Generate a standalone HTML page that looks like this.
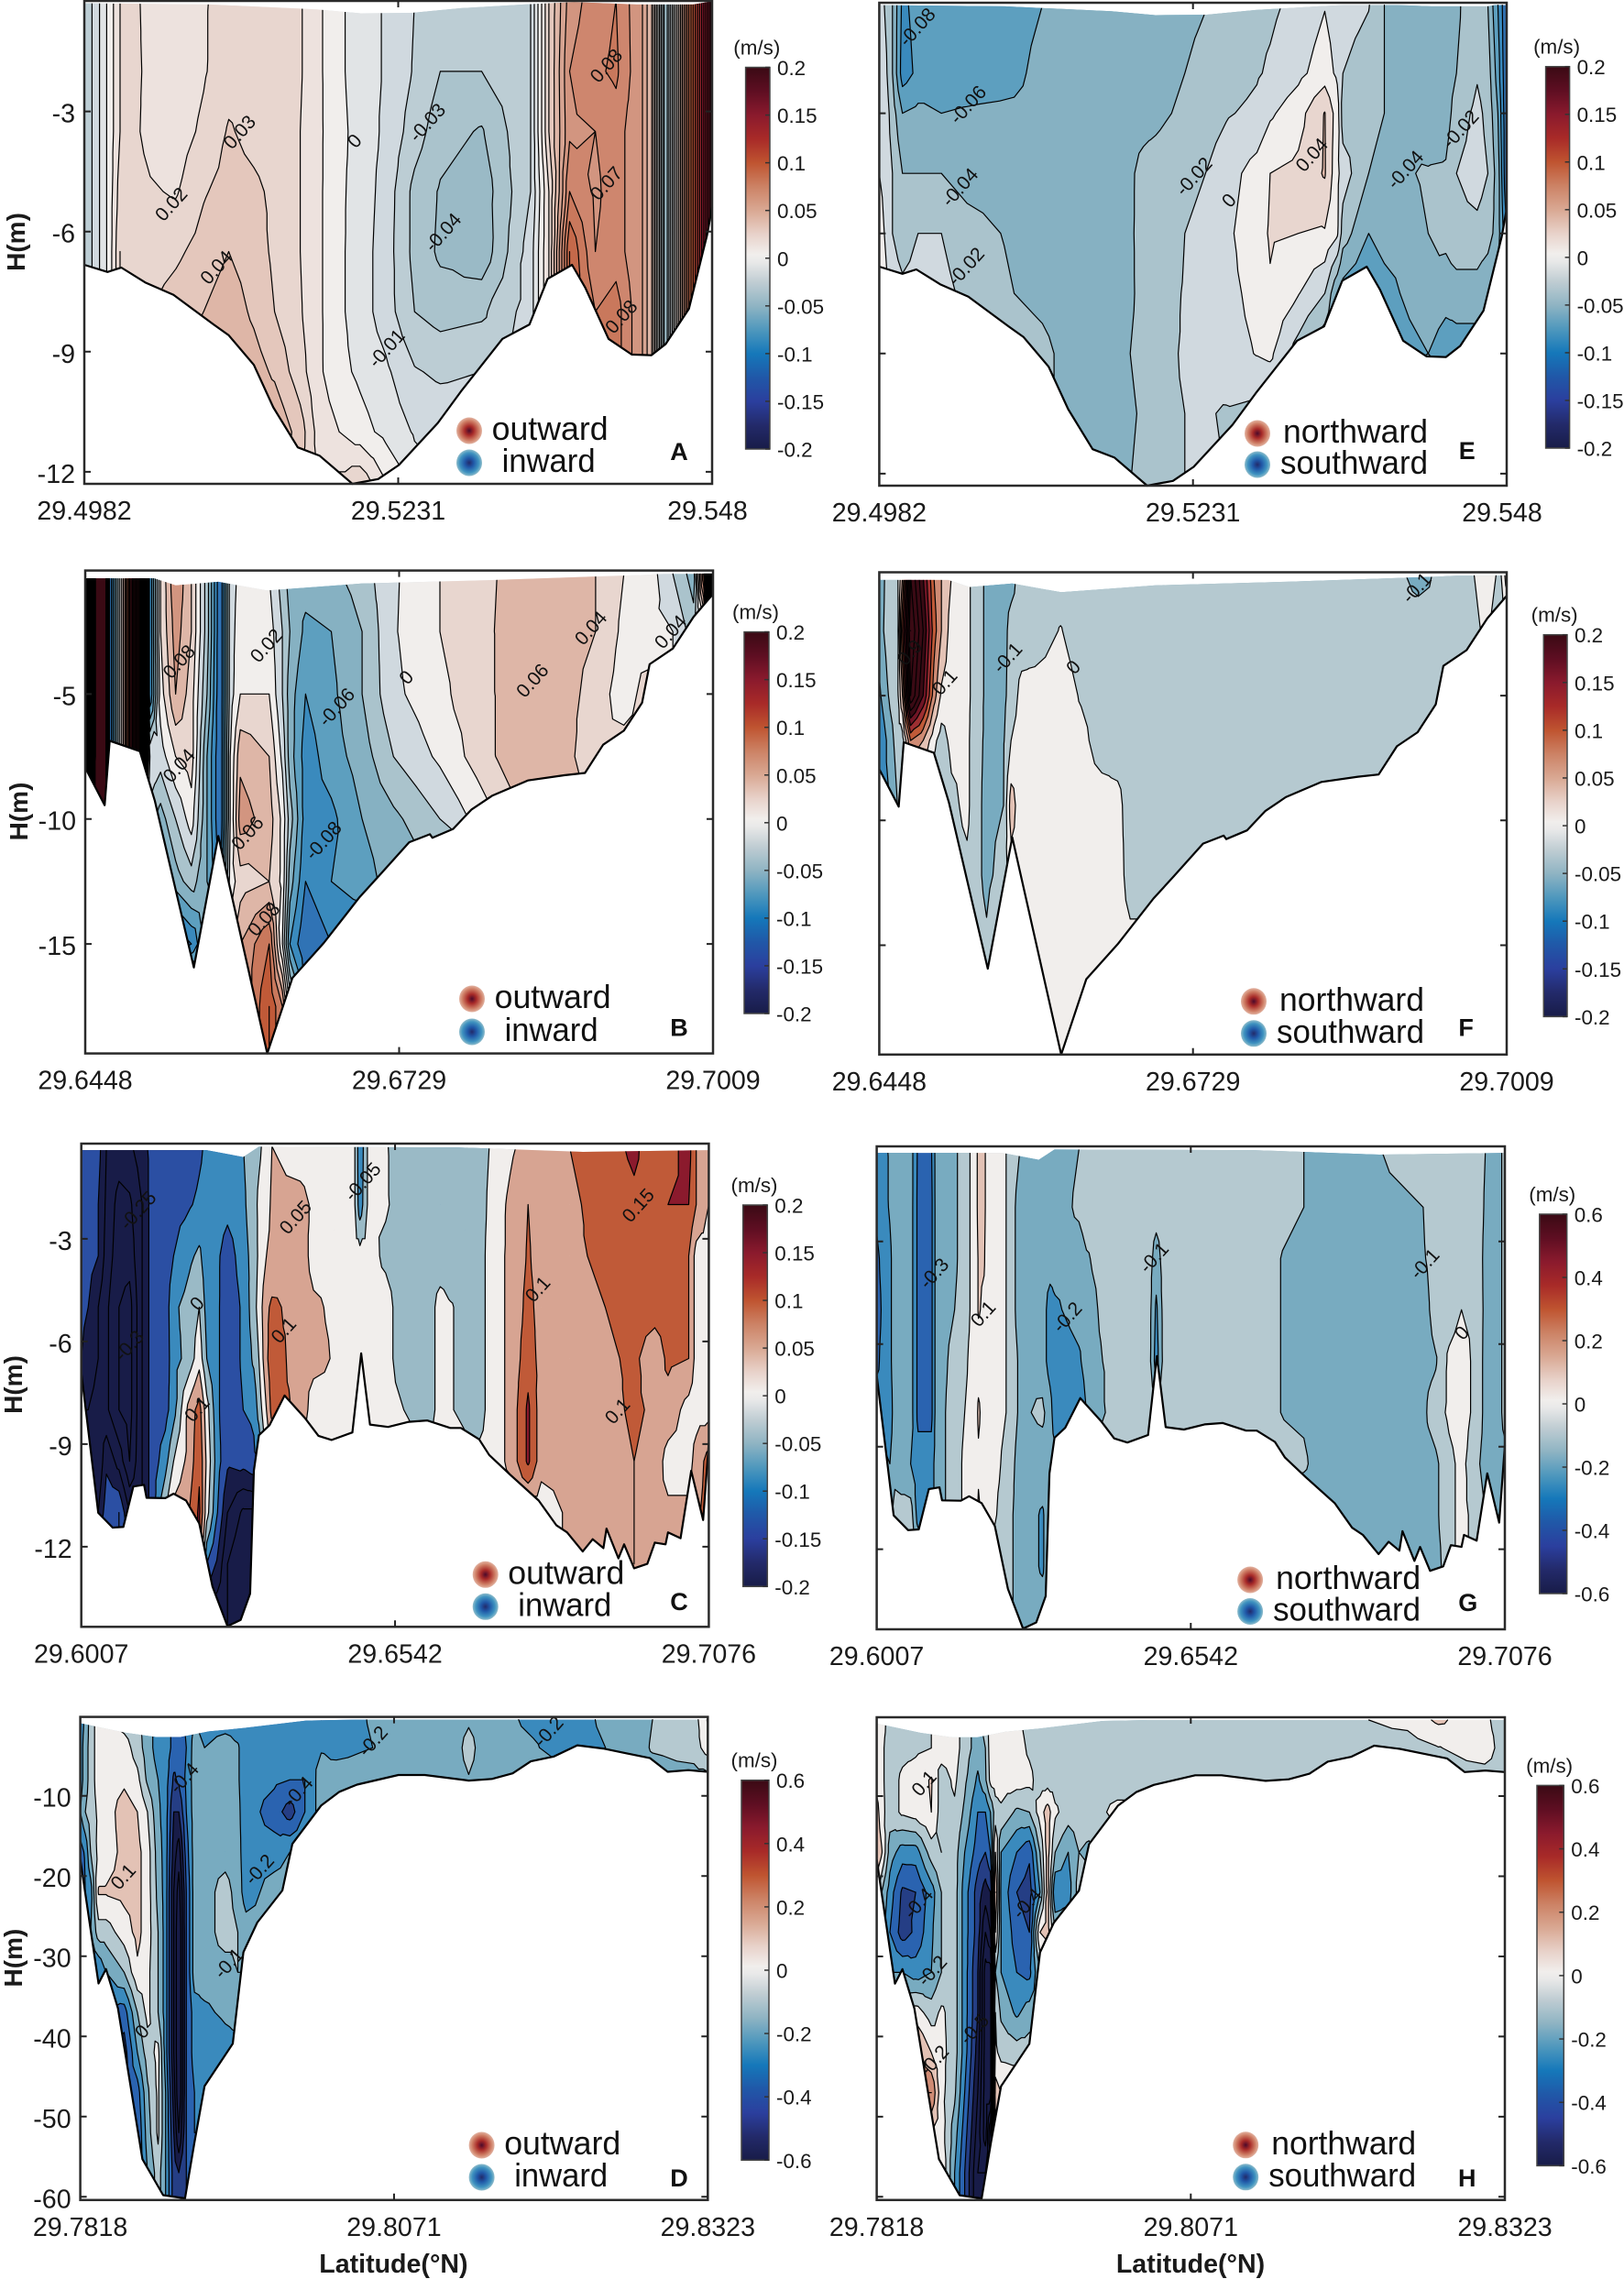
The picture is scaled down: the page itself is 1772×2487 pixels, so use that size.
<!DOCTYPE html>
<html lang="en">
<head>
<meta charset="utf-8">
<title>Velocity sections</title>
<style>
html,body{margin:0;padding:0;background:#fff}
#figure{display:block;font-family:"Liberation Sans",sans-serif}
</style>
</head>
<body>
<svg id="figure" xmlns="http://www.w3.org/2000/svg" width="1772" height="2487" viewBox="0 0 1772 2487">
<defs>
<radialGradient id="blob-out"><stop offset="0" stop-color="#4c0a2a"/><stop offset=".35" stop-color="#a82a28"/><stop offset=".75" stop-color="#cf7f66"/><stop offset="1" stop-color="#e2b3a2"/></radialGradient>
<radialGradient id="blob-in"><stop offset="0" stop-color="#222a6a"/><stop offset=".35" stop-color="#2058a8"/><stop offset=".75" stop-color="#3f93c0"/><stop offset="1" stop-color="#8fbccb"/></radialGradient>
<linearGradient id="bar-grad" x1="0" y1="0" x2="0" y2="1">
<stop offset="0" stop-color="#3a0a14"/><stop offset=".0625" stop-color="#5e0e22"/><stop offset=".125" stop-color="#8a1a2d"/><stop offset=".1875" stop-color="#a82a28"/><stop offset=".25" stop-color="#bf5430"/><stop offset=".3125" stop-color="#cc8265"/><stop offset=".375" stop-color="#d9a893"/><stop offset=".4375" stop-color="#e8d2ca"/><stop offset=".49" stop-color="#f1eeec"/><stop offset=".51" stop-color="#e9e9e9"/><stop offset=".5625" stop-color="#c0cdd3"/><stop offset=".625" stop-color="#8fb4c3"/><stop offset=".6875" stop-color="#4f98bd"/><stop offset=".75" stop-color="#1578ba"/><stop offset=".8125" stop-color="#2058a8"/><stop offset=".875" stop-color="#2b3f9e"/><stop offset=".9375" stop-color="#232a6a"/><stop offset="1" stop-color="#181c48"/>
</linearGradient>
</defs>
</svg>
<script>
/* ---------- shared transects: river bed and water surface (percent of section, metres) ---------- */
const t1BedPct=[0,3.7,5.9,9.7,14.2,20.6,23,27,30.1,34,37.5,42.7,46.8,50.1,56.3,60,66.6,70.9,73.8,77.7,79.8,83.5,87.2,90.3,92.6,96.3,99.2,100];
const t1BedDepth=[-6.83,-7.01,-6.9,-7.27,-7.58,-8.32,-8.59,-9.33,-10.39,-11.39,-11.6,-12.3,-12.18,-11.83,-10.78,-9.99,-8.68,-8.32,-7.18,-6.83,-7.4,-8.68,-9.07,-9.09,-8.81,-7.93,-6.09,-5.39];
const t1SurfPct=[0,20,37,44,52,60,70,78,88,97,100];
const t1SurfDepth=[-.3,-.33,-.45,-.55,-.54,-.42,-.33,-.27,-.33,-.33,-.25];
const t2BedPct=[0,3.1,3.9,8.7,11.1,17.3,21.2,29,33,38,43.7,47,51.6,54.9,55.3,58.6,61.5,64.8,70.5,76.3,79.6,82.5,85.8,88.7,89.9,93.6,96.9,100];
const t2BedDepth=[-7.95,-9.45,-6.87,-7.29,-9.28,-15.94,-10.68,-19.38,-16.36,-14.96,-13.13,-12.22,-10.93,-10.61,-10.75,-10.4,-9.63,-9.07,-8.46,-8.25,-8.16,-7.03,-6.47,-5.35,-3.81,-3.18,-1.91,-1];
const t2SurfPct=[0,11,14.4,21.2,29,44,64.8,89.5,100];
const t2SurfDepth=[-.37,-.37,-.65,-.51,-.86,-.58,-.44,-.23,-.06];
const t3BedPct=[0,2.7,5,6.7,8.3,10,10.4,13.4,14.7,16.7,18.8,20.9,23.3,25.4,26.9,27.5,28.3,30,32.4,35.7,37.8,39.9,43.2,44.6,46,48.9,52.2,55.1,58.8,60.5,63.4,65,68.3,72.9,75.7,77.4,79.9,81.5,83.2,83.7,85.6,86.5,88.1,90.2,91.4,93.1,93.5,95.5,97.2,99.1,100];
const t3BedDepth=[-6.91,-11.01,-11.44,-11.42,-10.24,-10.19,-10.57,-10.58,-10.45,-10.65,-11.32,-13.16,-14.32,-14.14,-13.37,-9.78,-8.74,-8.45,-7.58,-8.25,-8.76,-8.88,-8.66,-6.35,-8.43,-8.5,-8.35,-8.31,-8.53,-8.53,-8.86,-9.32,-9.89,-10.65,-11.37,-11.58,-12.14,-11.78,-12.04,-11.47,-12.34,-11.93,-12.63,-12.5,-11.88,-11.93,-11.58,-11.75,-9.78,-11.22,-8.96];
const t3SurfPct=[0,20,25.8,28.3,60,80,100];
const t3SurfDepth=[-.41,-.41,-.61,-.31,-.33,-.46,-.41];
const t4BedPct=[0,2.9,4.1,6,9.9,13.2,16.7,18.2,19.8,24.3,26,28.2,32.2,33.8,38.4,41.3,44.1,50.7,54.9,61.9,65.6,68.9,71.8,75.5,79.2,83.3,87,90.8,93.6,96.9,100];
const t4BedDepth=[-17.9,-33.4,-31.6,-36.5,-55.3,-59.8,-60.2,-53.2,-46.2,-40.9,-29.5,-25.8,-21.8,-16,-11.2,-9.5,-8.6,-7.4,-7.4,-8.1,-7.9,-7.2,-5.7,-5.1,-3.7,-4.1,-4.7,-5.3,-7,-6.8,-7];
const t4SurfPct=[0,7,12,16,20.5,26,36,53,100];
const t4SurfDepth=[-.95,-2.1,-2.66,-2.66,-1.97,-1.55,-.62,-.34,-.2];

/* ---------- axis tick labels ---------- */
const t1LatTicks=["29.4982","29.5231","29.548"];
const t2LatTicks=["29.6448","29.6729","29.7009"];
const t3LatTicks=["29.6007","29.6542","29.7076"];
const t4LatTicks=["29.7818","29.8071","29.8323"];
const t1DepthTicks=[-3,-6,-9,-12];
const t2DepthTicks=[-5,-10,-15];
const t3DepthTicks=[-3,-6,-9,-12];
const t4DepthTicks=[-10,-20,-30,-40,-50,-60];
const barTicksSmall=[0.2,0.15,0.1,0.05,0,-0.05,-0.1,-0.15,-0.2];
const barTicksLarge=[0.6,0.4,0.2,0,-0.2,-0.4,-0.6];

/* ---------- panel A: velocity (m/s) on station × depth grid ---------- */
const aStations=[0,2.2,3.9,5.7,7.8,10.5,14.6,19,23,27,30.3,34.4,37.3,40.6,43.9,48,52.6,56.7,63.3,71.1,74,77.3,81.4,84.7,88.9,90.4,92.6,96.3,98,100];
const aDepths=[-.2,-2,-3.5,-5,-6.5,-8,-9.5,-11,-12.4];
const aSpeed=[
[-.03,-.012,.003,.02,.022,.017,.012,.019,.024,.025,.025,.021,.012,.002,-.005,-.011,-.02,-.028,-.028,-.02,.03,.065,.075,.08,.06,.04,-.05,.09,.14,.2],
[-.03,-.012,.003,.02,.022,.018,.013,.019,.026,.026,.025,.021,.012,.002,-.005,-.011,-.021,-.03,-.03,-.02,.03,.07,.078,.082,.06,.04,-.05,.09,.14,.2],
[-.03,-.012,.003,.02,.022,.017,.015,.022,.031,.027,.025,.02,.012,.003,-.004,-.012,-.025,-.036,-.041,-.02,.03,.068,.07,.075,.06,.04,-.05,.09,.14,.2],
[-.03,-.012,.003,.025,.024,.021,.019,.029,.034,.032,.028,.02,.012,.002,-.004,-.014,-.033,-.041,-.046,-.02,.02,.08,.068,.075,.06,.04,-.05,.09,.14,.2],
[-.03,-.012,.003,.03,.025,.025,.028,.034,.04,.035,.028,.02,.012,.002,-.005,-.015,-.033,-.042,-.047,-.015,.02,.1,.07,.075,.06,.04,-.05,.09,.14,.2],
[-.03,-.012,.003,.03,.03,.03,.035,.04,.046,.038,.03,.021,.012,.002,-.005,-.015,-.03,-.034,-.032,-.015,.02,.1,.08,.085,.06,.04,-.05,.09,.14,.2],
[.04,.04,.04,.04,.04,.04,.04,.045,.05,.045,.038,.024,.012,.003,-.002,-.008,-.019,-.022,-.02,-.02,.02,.08,.08,.085,.06,.04,-.05,.09,.14,.2],
[.05,.05,.05,.05,.05,.05,.05,.05,.05,.05,.05,.035,.016,.01,.004,-.003,-.011,-.012],
[.05,.05,.05,.05,.05,.05,.05,.05,.05,.05,.05,.03,.02,.024,.03,.012,-.005,-.01]];
const aLabelText=["0.02","0.03","0.04","0","-0.03","-0.04","-0.01","0.08","0.07","0.08"];
const aLabelPct=[14,24.9,21.2,43.2,54.8,57.3,48.3,83.3,83.3,85.7];
const aLabelDepth=[-5.34,-3.54,-6.92,-3.76,-3.3,-6.04,-8.94,-1.88,-4.82,-8.15];

/* ---------- panel E ---------- */
const eStations=[0,.8,2.1,3.7,6.2,9.9,14,21.5,26,29.7,33,40,42.1,44.1,46.6,48.7,52,55.3,60.2,62.3,66.8,71,73,73.9,78,80.5,87.5,90.3,92,95.3,97,98.6,100];
const eDepths=[-.3,-2,-3,-4.5,-6,-7.5,-9,-10.5,-12.4];
const eSpeed=[
[-.01,-.02,-.04,-.085,-.072,-.07,-.07,-.07,-.06,-.05,-.05,-.05,-.041,-.05,-.05,-.048,-.041,-.03,-.026,-.024,-.014,-.001,-.01,-.012,-.019,-.04,-.05,-.05,-.045,-.02,-.04,-.08,-.12],
[-.005,-.01,-.04,-.09,-.075,-.07,-.07,-.066,-.052,-.05,-.05,-.045,-.042,-.047,-.045,-.04,-.03,-.03,-.022,-.017,-.005,.01,-.004,-.02,-.03,-.04,-.05,-.05,-.04,-.022,-.03,-.07,-.12],
[0,-.005,-.03,-.06,-.055,-.06,-.058,-.056,-.052,-.05,-.05,-.045,-.045,-.044,-.04,-.035,-.03,-.022,-.015,-.003,.012,.041,.01,-.03,-.035,-.04,-.055,-.05,-.03,-.015,-.025,-.06,-.12],
[0,-.005,-.02,-.04,-.04,-.04,-.05,-.055,-.052,-.05,-.05,-.042,-.036,-.033,-.03,-.025,-.02,-.008,.008,.02,.025,.042,.005,-.01,-.04,-.045,-.038,-.037,-.02,-.012,-.02,-.05,-.12],
[.01,0,-.02,-.03,-.02,-.02,-.03,-.044,-.05,-.05,-.05,-.042,-.035,-.033,-.03,-.02,-.015,-.004,.012,.022,.02,.018,.003,-.03,-.06,-.05,-.04,-.035,-.025,-.025,-.03,-.05,-.1],
[.01,.01,-.01,-.015,-.012,-.015,-.024,-.04,-.045,-.05,-.05,-.042,-.036,-.03,-.025,-.018,-.015,-.006,.006,.018,.001,-.02,-.06,-.07,-.08,-.07,-.042,-.05,-.05,-.05,-.06,-.08,-.1],
[-.02,-.02,-.02,-.02,-.02,-.02,-.02,-.03,-.035,-.045,-.05,-.04,-.036,-.03,-.022,-.018,-.013,-.008,.001,.004,-.03,-.06,-.07,-.07,-.08,-.08,-.06,-.075,-.07,-.07,-.07],
[-.04,-.04,-.04,-.04,-.04,-.04,-.04,-.04,-.04,-.04,-.05,-.042,-.038,-.03,-.022,-.02,-.018,-.022,-.025],
[-.05,-.05,-.05,-.05,-.05,-.05,-.05,-.05,-.05,-.05,-.05,-.04,-.036,-.03,-.028,-.02,-.018]];
const eLabelText=["-0.08","-0.06","-0.04","-0.02","-0.02","0","0.04","-0.04","-0.02"];
const eLabelPct=[6.2,14.3,13,14,50.3,55.9,69.1,84,92.8];
const eLabelDepth=[-.87,-2.81,-4.87,-6.85,-4.6,-5.2,-4.06,-4.43,-3.42];

/* ---------- panel B ---------- */
const bStations=[0,1.7,3.3,3.9,6.2,8.7,10.3,12,14.4,16.9,19.4,21.5,23.1,24.7,29.3,31.4,32.6,35.1,39.2,44.1,49.1,56.5,65.6,70.5,76.3,81.3,85.8,89.9,93.6,96.9,98.5,100];
const bDepths=[-.2,-2.5,-5,-7.5,-10,-12.5,-15,-17.5,-19.4];
const bSpeed=[
[.8,.26,.26,-.12,.05,.3,-.1,.02,.08,.04,-.03,-.12,-.01,.006,0,-.03,-.05,-.05,-.045,-.03,-.003,.02,.04,.045,.05,.04,.02,.01,-.02,-.05,.1,.4],
[.8,.26,.26,-.12,.05,.3,-.1,.02,.07,.04,-.03,-.12,-.01,.012,.01,-.02,-.04,-.065,-.06,-.04,-.002,.02,.041,.046,.05,.04,.015,.005,0,-.03,0,.15],
[.8,.26,.26,-.12,.05,.3,-.1,.01,.06,.03,-.04,-.12,-.01,.02,.02,-.02,-.05,-.08,-.065,-.04,-.005,.015,.041,.045,.05,.03,.01,.03,0,0,0,0],
[.8,.26,.26,-.12,.05,.3,0,-.01,.02,.03,-.06,-.12,0,.055,.04,-.005,-.05,-.09,-.07,-.05,-.02,.004,.041,.055,.05,.02,.03,.03],
[.26,.26,.26,-.13,0,0,-.03,-.05,-.02,.01,-.06,-.12,0,.07,.05,.015,-.03,-.09,-.085,-.06,-.045,-.02,.02,.05],
[.25,.25,.1,-.13,-.1,-.1,-.1,-.08,-.05,-.03,-.06,-.1,.01,.03,.04,.015,-.05,-.1,-.08,-.07,-.05],
[-.1,-.1,-.1,-.1,-.1,-.1,-.1,-.1,-.12,-.1,-.05,0,.02,.06,.1,0,-.08,-.12,-.1],
[.03,.03,.03,.03,.03,.03,.03,.03,.03,.03,.03,.03,.03,.06,.12,.08,0,-.1],
[.03,.03,.03,.03,.03,.03,.03,.03,.03,.03,.03,.03,.03,.06,.12,.08,0,-.1]];
const bLabelText=["0.08","0.04","0.02","0","-0.06","0.06","-0.08","0.08","0.06","0.04","0.04"];
const bLabelPct=[15.1,15.1,29,51.3,40.2,26,38.1,28.6,71.4,80.7,93.4];
const bLabelDepth=[-3.74,-7.9,-3.1,-4.37,-5.56,-10.6,-10.9,-14.05,-4.5,-2.4,-2.55];

/* ---------- panel F ---------- */
const fStations=[0,1.7,2.9,3.7,5,7,8.7,9.9,11.5,14,15,17.1,19.8,21,22.7,24.8,28.9,32.2,35.5,38,40,72,82.7,85.9,94.5,96.5,99,100];
const fDepths=[-.2,-2.4,-5,-6.8,-9.4,-12.2,-15,-19.4];
const fSpeed=[
[-.17,-.03,-.03,.2,.9,.6,.3,.2,.1,.03,-.03,-.12,-.15,-.15,-.04,-.05,-.05,-.05,-.05,-.05,-.05,-.05,-.08,-.13,-.01,.05,-.02,.15],
[-.15,-.03,-.05,.4,1,.7,.35,.2,.05,.03,-.03,-.12,-.15,-.05,-.05,-.05,.005,-.05,-.05,-.05,-.05,-.05,-.05,-.05,-.04,.02,-.05,-.05],
[-.22,-.08,-.03,.2,.9,.6,.25,.08,.05,.03,-.03,-.12,-.13,-.05,.03,.04,.05,-.01,-.05,-.05,-.05,-.05],
[-.3,-.15,-.05,-.05,.3,.2,.03,-.05,.03,.03,-.05,-.12,-.11,0,.04,.05,.05,.03,-.05,-.05,-.05,-.05],
[-.25,-.2,-.1,-.1,-.1,-.1,-.1,-.13,-.03,.03,-.05,-.13,-.1,.15,.03,.05,.05,.05,.05,.03,-.05,-.05],
[-.05,-.05,-.05,-.05,-.05,-.05,-.05,-.05,-.05,-.03,-.05,-.13,-.05,.05,.05,.05,.05,.05,.05,.05,-.05],
[-.05,-.05,-.05,-.05,-.05,-.05,-.05,-.05,-.05,-.03,-.03,-.08,.05,.05,.05,.05,.05,.05,.05,.05,.03],
[.05,.05,.05,.05,.05,.05,.05,.05,.05,.05,.05,.05,.05,.05,.05,.05,.05,.05,.05,.05,.05]];
const fLabelText=["0.9","0.1","-0.1","0","-0.1"];
const fLabelPct=[5,10.6,20.6,31.1,85.8];
const fLabelDepth=[-3.31,-4.5,-3.52,-3.9,-.72];

/* ---------- panel C ---------- */
const cStations=[0,1.1,2.7,4,6,7.7,9.7,10.97,13.4,14.7,17.2,18.8,20,21.7,23.3,25.8,27.5,28.3,29.5,30.4,34.9,37,43.6,44.4,45.6,48.5,51.4,55.1,57.2,58.8,63.4,65,68.3,71.2,73.3,77.8,83.5,88.1,91.4,93.5,96.8,98,100];
const cDepths=[-.3,-2,-3.5,-5,-6.5,-8,-9.5,-11,-12.5,-14.3];
const cSpeed=[
[-.1,-.1,-.13,-.2,-.22,-.21,-.17,-.14,-.14,-.14,-.13,-.11,-.09,-.07,-.07,-.051,-.02,-.01,.02,.05,.02,.02,0,-.09,0,.005,-.03,-.03,-.03,-.03,-.03,0,.04,.07,.07,.1,.13,.16,.12,.13,.17,.1,.05],
[-.1,-.12,-.15,-.21,-.27,-.26,-.2,-.14,-.14,-.12,-.105,-.09,-.08,-.07,-.08,-.06,-.02,.01,.03,.06,.07,.04,0,-.08,0,.005,-.02,-.03,-.03,-.03,-.03,.01,.06,.1,.08,.09,.12,.14,.13,.15,.15,.1,.05],
[-.12,-.13,-.15,-.22,-.28,-.28,-.2,-.14,-.13,-.1,-.06,-.04,-.08,-.09,-.13,-.07,-.03,.01,.05,.06,.08,.03,.02,.02,.02,-.01,-.03,-.03,-.03,-.03,-.03,.02,.06,.105,.08,.09,.11,.12,.13,.12,.1,.03,.03],
[-.14,-.15,-.2,-.24,-.3,-.32,-.2,-.14,-.13,-.06,-.03,0,-.07,-.09,-.14,-.09,-.02,.02,.09,.11,.08,.06,.02,.02,.02,.02,-.03,-.03,.02,.004,-.03,.02,.06,.115,.08,.08,.1,.12,.12,.12,.1,.03,.03],
[-.15,-.17,-.2,-.24,-.3,-.32,-.2,-.14,-.13,-.07,-.03,.03,-.05,-.09,-.14,-.09,-.04,0,.09,.13,.07,.07,.02,.02,.02,.02,-.03,-.03,.02,.004,-.03,.02,.06,.13,.08,.08,.09,.11,.07,.11,.1,.03,.03],
[-.2,-.2,-.22,-.24,-.3,-.32,-.2,-.14,-.12,-.07,.07,.12,.02,-.09,-.14,-.1,-.09,-.03,.05,.12,.09,.02,.02,.02,.02,.02,0,-.03,.02,.004,-.03,.02,.06,.16,.07,.08,.08,.11,.09,.08,.03,.03,.03],
[-.25,-.25,-.25,-.16,-.22,-.3,-.2,-.14,-.07,0,.07,.14,.04,-.08,-.14,-.13,-.11,-.1,.02,.02,.02,.02,.02,.02,.02,.02,.02,.02,.02,.02,.02,.02,.06,.16,.07,.07,.07,.1,.08,.03,.03,.07,.12],
[-.2,-.2,-.2,-.12,-.1,-.2,-.2,-.14,0,.07,.1,.16,.02,-.1,-.2,-.26,-.26,-.2,0,0,0,0,0,0,0,0,0,0,0,0,0,.02,.02,.02,.02,.06,.07,.1,.06,.06,.06,.09,.12],
[-.1,-.1,-.1,-.1,-.1,-.1,-.1,-.1,-.1,-.1,.1,.16,-.1,-.16,-.25,-.3,-.26,-.2,0,0,0,0,0,0,0,0,0,0,0,0,0,0,0,0,.02,.06,.07,.1,.07,.07,.07,.07,.07],
[-.25,-.25,-.25,-.25,-.25,-.25,-.25,-.25,-.25,-.25,-.25,-.25,-.25,-.25,-.25,-.25,-.25,-.25,-.25]];
const cLabelText=["-0.25","-0.3","0","0.1","0.05","0.1","-0.05","0.1","0.15","0.1"];
const cLabelPct=[9.2,7.8,18.6,18.6,34.3,32.4,45,72.9,88.9,85.6];
const cLabelDepth=[-2.2,-6.15,-4.92,-8,-2.4,-5.7,-1.36,-4.5,-2.05,-8.06];

/* ---------- panel G ---------- */
const gStations=[0,2.1,2.9,5.4,6.6,8.7,9.5,12.4,14,15.7,16.2,17.1,17.6,20.6,22.8,26.4,27.6,28.4,32.2,33.4,37,43.3,44.5,45.8,68,72.1,73.6,87,87.8,89,91.1,93.1,96,96.9,99,100];
const gDepths=[-.3,-2,-3.5,-5,-6.5,-8,-9.5,-11,-12.5,-14.3];
const gSpeed=[
[-.25,-.19,-.15,-.15,-.32,-.31,-.15,-.12,-.05,.05,.13,.13,.05,0,-.1,-.15,-.15,-.15,-.1,-.05,-.05,-.05,-.05,-.05,-.1,-.15,-.15,-.05,-.05,-.05,-.05,-.05,-.05,-.1,-.15,-.05],
[-.28,-.19,-.15,-.15,-.33,-.33,-.15,-.12,-.05,.05,.13,.13,.05,0,-.15,-.15,-.15,-.15,-.08,-.05,-.05,-.05,-.05,-.05,-.1,-.15,-.15,-.1,-.07,-.05,-.05,-.05,-.05,-.12,-.15,-.05],
[-.32,-.22,-.15,-.15,-.33,-.33,-.15,-.12,-.05,.05,.11,.11,.05,0,-.15,-.15,-.15,-.15,-.15,-.11,-.05,-.05,-.15,-.05,-.11,-.15,-.15,-.11,-.09,-.05,-.05,-.05,-.05,-.15,-.15,-.05],
[-.34,-.22,-.15,-.15,-.33,-.33,-.15,-.1,-.05,.05,.11,.08,.05,0,-.15,-.15,-.25,-.22,-.15,-.15,-.05,-.05,-.22,-.05,-.11,-.15,-.15,-.15,-.11,-.05,-.05,0,-.03,-.15,-.15,-.05],
[-.32,-.22,-.15,-.15,-.33,-.33,-.15,-.07,-.02,.05,.05,.05,.05,0,-.12,-.15,-.25,-.28,-.22,-.15,-.08,-.05,-.25,-.05,-.11,-.15,-.15,-.15,-.13,-.11,.02,.05,-.05,-.15,-.15,-.05],
[-.25,-.25,-.15,-.15,-.33,-.33,-.15,-.05,0,.05,.12,.05,.05,0,-.12,-.08,-.15,-.28,-.3,-.2,-.08,-.05,-.05,-.05,-.11,-.15,-.15,-.15,-.08,-.05,.02,.05,-.05,-.15,-.15,-.05],
[-.15,-.2,-.15,-.2,-.25,-.25,-.15,-.05,.02,.05,.08,.05,.05,-.02,-.15,-.15,-.15,-.15,-.05,-.05,-.05,-.05,-.05,-.05,-.09,-.15,-.15,-.15,-.15,-.12,-.03,.03,-.1,-.15,-.15,-.15],
[-.15,-.15,-.05,-.05,-.25,-.25,-.15,-.05,.02,.05,.12,.05,.05,-.05,-.15,-.21,-.15,-.15,-.05,-.05,-.05,-.05,-.05,-.05,-.15,-.15,-.15,-.15,-.15,-.12,-.03,.03,-.05,-.1,-.1,-.1],
[-.05,-.05,-.05,-.05,-.05,-.05,-.05,-.05,-.05,-.05,-.05,-.05,-.05,-.05,-.15,-.21,-.15,-.15,-.15,-.15,-.15,-.15,-.15,-.15,-.15,-.15,-.15,-.15,-.15,-.15,-.03,.03,-.05,-.1,-.1,-.1],
[-.05,-.05,-.05,-.05,-.05,-.05,-.05,-.05,-.05,-.05,-.05,-.05,-.05,-.05,-.15,-.15,-.15]];
const gLabelText=["-0.3","0.1","-0.2","-0.1","-0.1","0"];
const gLabelPct=[9.3,17.1,30.5,44.3,87.4,93.3];
const gLabelDepth=[-3.96,-5.14,-5.24,-3.5,-3.68,-5.7];

/* ---------- panel D ---------- */
const dStations=[0,.8,1.65,2.9,4.1,7,9.1,10.7,12.4,13.6,14.9,15.7,16.9,18.2,19.8,23.1,25.1,26.4,30.9,33.4,35.8,38.4,40.8,46.6,50.7,59.8,61.9,64,72.2,78,83.7,87.9,91.2,97.8,100];
const dDepths=[-.5,-4,-8,-12,-17,-22,-27,-32,-37,-42,-47,-52,-57,-60.4];
const dSpeed=[
[-.25,-.18,-.05,.05,.05,-.05,-.08,-.15,-.25,-.25,-.33,-.33,-.28,-.2,-.25,-.25,-.25,-.25,-.25,-.25,-.25,-.2,-.25,-.19,-.15,-.15,-.12,-.15,-.22,-.25,-.18,-.15,-.1,-.05,.11],
[-.25,-.15,-.05,.05,.05,.05,-.05,-.15,-.25,-.25,-.33,-.38,-.3,-.15,-.2,-.15,-.19,-.25,-.25,-.25,-.25,-.21,-.25,-.2,-.15,-.15,-.05,-.15,-.19,-.25,-.2,-.15,-.09,-.05,.05],
[-.25,-.15,-.05,.05,.05,.08,.03,-.12,-.2,-.25,-.42,-.38,-.28,-.15,-.15,-.15,-.19,-.25,-.28,-.3,-.3,-.15,-.12,-.11,-.15,-.15,-.11,-.15,-.15,-.15],
[-.2,-.1,-.05,.02,.05,.15,.1,0,-.18,-.25,-.5,-.5,-.3,-.15,-.15,-.15,-.18,-.25,-.35,-.45,-.3,-.15],
[-.35,-.28,-.1,.03,.05,.13,.13,.05,-.15,-.25,-.55,-.65,-.35,-.15,-.15,-.15,-.17,-.25,-.25,-.2],
[-.45,-.3,-.25,.11,.11,.13,.13,.05,-.13,-.25,-.6,-.75,-.4,-.15,-.15,-.05,-.15,-.25,-.15],
[-.4,-.3,-.2,-.05,-.05,.05,.13,.05,-.1,-.25,-.6,-.8,-.4,-.15,-.15,-.05,-.1,-.15],
[-.3,-.3,-.3,-.3,-.2,-.1,.08,.03,-.1,-.25,-.6,-.8,-.4,-.15,-.15,-.15,-.1],
[-.3,-.3,-.3,-.3,-.3,-.35,-.1,.03,-.1,-.25,-.6,-.8,-.4,-.25,-.22,-.18,-.15],
[-.4,-.4,-.4,-.4,-.4,-.45,-.2,-.05,.03,-.25,-.6,-.8,-.4,-.25,-.3,-.25],
[-.4,-.4,-.4,-.4,-.4,-.4,-.35,-.12,.02,-.2,-.55,-.8,-.4,-.3,-.3],
[-.4,-.4,-.4,-.4,-.4,-.4,-.4,-.15,.02,-.2,-.5,-.7,-.4,-.3],
[-.4,-.4,-.4,-.4,-.4,-.4,-.4,-.2,-.05,-.2,-.45,-.5,-.4],
[-.4,-.4,-.4,-.4,-.4,-.4,-.4,-.2,-.05,-.2,-.45,-.5,-.4]];
const dLabelText=["-0.4","0.1","0","-0.4","-0.2","-0.2","-0.2","-0.1"];
const dLabelPct=[16.7,7,10,34.9,28.7,46.8,74.8,23.8];
const dLabelDepth=[-7.9,-20.2,-39.5,-9.6,-19.3,-3.3,-2.1,-31];

/* ---------- panel H ---------- */
const hStations=[0,.8,2.1,4.1,6.2,8.7,10.3,12.4,14,16.1,17.3,18.1,18.9,19.8,22.3,24.3,26,27.2,28.4,30.5,32.2,33.8,38.3,42.4,76.3,84.5,89.4,96.8,100];
const hDepths=[-.5,-4,-8,-12,-17,-22,-27,-32,-37,-42,-47,-52,-57,-60.4];
const hSpeed=[
[.05,.05,-.05,-.05,-.05,0,.05,.05,-.05,-.15,-.05,.05,.05,.05,.03,-.05,-.05,-.05,-.05,-.05,-.05,-.05,-.05,-.05,-.01,.03,.12,.02,-.05],
[.03,.02,-.05,-.03,-.02,0,.05,.05,-.05,-.15,-.1,.05,.05,.05,.05,-.02,-.05,-.05,-.05,-.05,-.05,-.05,-.05,-.05,-.05,-.05,-.005,.05,-.05],
[.05,.02,-.05,.02,.05,.11,-.05,.02,-.08,-.22,-.12,.03,.05,.05,.05,.03,-.05,-.05,-.05,-.05,-.05],
[.15,.03,-.05,.02,.05,.1,-.05,-.02,-.12,-.3,-.3,-.2,-.05,-.02,-.12,-.1,.05,.15,.02,-.05,-.05,-.05,.03,.03],
[.18,.11,-.15,-.25,-.25,-.05,0,-.05,-.2,-.35,-.4,-.3,.1,-.2,-.3,-.38,-.1,.15,-.1,-.2,-.1,-.12,-.05],
[.1,-.1,-.25,-.42,-.4,-.25,-.1,-.05,-.25,-.45,-.55,-.5,.2,-.22,-.4,-.45,-.2,.15,-.3,-.25,-.05],
[0,-.15,-.3,-.45,-.38,-.22,-.1,-.05,-.25,-.45,-.7,-.6,.1,-.2,-.35,-.4,.1,.15,-.1],
[-.2,-.2,-.2,-.2,-.25,-.2,-.1,-.05,-.25,-.5,-.85,-.85,-.1,-.2,-.3,-.33,-.1],
[-.05,-.05,-.05,-.02,.05,-.05,.02,-.05,-.25,-.5,-.85,-.85,0,-.12,-.22,-.15],
[.2,.2,.2,.2,.25,.1,.03,-.05,-.25,-.55,-.85,-.85,.02,-.03,-.05,-.05],
[.3,.3,.3,.3,.3,.3,.03,-.08,-.3,-.6,-.85,-.85,.15,.1],
[.1,.1,.1,.1,.1,.1,.05,-.15,-.35,-.65,-.85,-.5,.1],
[.1,.1,.1,.1,.1,.1,.1,-.2,-.4,-.7,-.7],
[.1,.1,.1,.1,.1,.1,.1,-.2,-.4,-.7,-.7]];
const hLabelText=["0.1","-0.4","-0.2","-0.2","-0.5","-0.4"];
const hLabelPct=[7.7,6.8,9,9.3,15.7,24.1];
const hLabelDepth=[-8.5,-23.5,-31.9,-43.1,-39.2,-23.5];

/* ---------- legend words ---------- */
const crossLegend=["outward","inward"];
const alongLegend=["northward","southward"];

/* ---------- layout ---------- */
const panels=[
{letter:"A",box:[92,1,777,528],top:-.24,bottom:-12.3,step:.01,clim:.2,st:aStations,de:aDepths,sp:aSpeed,lt:aLabelText,lp:aLabelPct,ld:aLabelDepth,bp:t1BedPct,bd:t1BedDepth,sp1:t1SurfPct,sd:t1SurfDepth,lat:t1LatTicks,dt:t1DepthTicks,bar:[813.6,73.5,840,490],bt:barTicksSmall,leg:crossLegend,blob:[420,-58,-23],tx:[[24.6,127],[35.6,102]],lx:741,ly:502,yl:[27,264]},
{letter:"E",box:[959.4,3,1644,530],top:-.24,bottom:-12.3,step:.02,clim:.2,st:eStations,de:eDepths,sp:eSpeed,lt:eLabelText,lp:eLabelPct,ld:eLabelDepth,bp:t1BedPct,bd:t1BedDepth,sp1:t1SurfPct,sd:t1SurfDepth,lat:t1LatTicks,dt:t1DepthTicks,bar:[1686.6,72.7,1712.6,489],bt:barTicksSmall,leg:alongLegend,blob:[412.6,-57,-23],tx:[[28,158],[25,161]],lx:1600.7,ly:501},
{letter:"B",box:[93,622.6,778,1149.6],top:-.06,bottom:-19.38,step:.02,clim:.2,st:bStations,de:bDepths,sp:bSpeed,lt:bLabelText,lp:bLabelPct,ld:bLabelDepth,bp:t2BedPct,bd:t2BedDepth,sp1:t2SurfPct,sd:t2SurfDepth,lat:t2LatTicks,dt:t2DepthTicks,bar:[812,689.6,839,1106],bt:barTicksSmall,leg:crossLegend,blob:[422,-59.6,-23.6],tx:[[24.6,127],[35.6,102]],lx:741,ly:1130.5,yl:[30,885.5]},
{letter:"F",box:[959.4,624.5,1644,1150.8],top:-.06,bottom:-19.38,step:.1,clim:.6,st:fStations,de:fDepths,sp:fSpeed,lt:fLabelText,lp:fLabelPct,ld:fLabelDepth,bp:t2BedPct,bd:t2BedDepth,sp1:t2SurfPct,sd:t2SurfDepth,lat:t2LatTicks,dt:t2DepthTicks,bar:[1684.3,692.7,1710,1109.4],bt:barTicksSmall,leg:alongLegend,blob:[408.6,-58,-23],tx:[[28,158],[25,161]],lx:1599.6,ly:1130.5},
{letter:"C",box:[88.7,1248,773.4,1775.3],top:-.22,bottom:-14.34,step:.05,clim:.2,st:cStations,de:cDepths,sp:cSpeed,lt:cLabelText,lp:cLabelPct,ld:cLabelDepth,bp:t3BedPct,bd:t3BedDepth,sp1:t3SurfPct,sd:t3SurfDepth,lat:t3LatTicks,dt:t3DepthTicks,bar:[810.7,1315,837.3,1731.3],bt:barTicksSmall,leg:crossLegend,blob:[441,-57,-22],tx:[[24.6,127],[35.6,102]],lx:741,ly:1757,yl:[24,1511]},
{letter:"G",box:[956.6,1251,1642,1778],top:-.22,bottom:-14.34,step:.1,clim:.6,st:gStations,de:gDepths,sp:gSpeed,lt:gLabelText,lp:gLabelPct,ld:gLabelDepth,bp:t3BedPct,bd:t3BedDepth,sp1:t3SurfPct,sd:t3SurfDepth,lat:t3LatTicks,dt:t3DepthTicks,bar:[1679.8,1325,1709.7,1739],bt:barTicksLarge,leg:alongLegend,blob:[407.5,-54,-19.5],tx:[[28,158],[25,161]],lx:1601.8,ly:1758},
{letter:"D",box:[87.6,1873.6,772.3,2400.8],top:-.16,bottom:-60.4,step:.1,clim:.6,st:dStations,de:dDepths,sp:dSpeed,lt:dLabelText,lp:dLabelPct,ld:dLabelDepth,bp:t4BedPct,bd:t4BedDepth,sp1:t4SurfPct,sd:t4SurfDepth,lat:t4LatTicks,dt:t4DepthTicks,bar:[809,1942.7,839,2357.3],bt:barTicksLarge,leg:crossLegend,blob:[438,-59.8,-24.8],tx:[[24.6,127],[35.6,102]],lx:741,ly:2385.8,yl:[24,2136.6],xl:429.4},
{letter:"H",box:[956.6,1874,1642,2400.8],top:-.16,bottom:-60.4,step:.1,clim:.6,st:hStations,de:hDepths,sp:hSpeed,lt:hLabelText,lp:hLabelPct,ld:hLabelDepth,bp:t4BedPct,bd:t4BedDepth,sp1:t4SurfPct,sd:t4SurfDepth,lat:t4LatTicks,dt:t4DepthTicks,bar:[1677,1948.4,1706.3,2363.4],bt:barTicksLarge,leg:alongLegend,blob:[402.6,-60,-25],tx:[[28,158],[25,161]],lx:1600.7,ly:2385.8,xl:1299}
];

/* ---------- colour map used for the filled bands ---------- */
const mapPos=[-1,-.75,-.667,-.5,-.4,-.333,-.25,-.167,-.1,0,.1,.167,.25,.5,.75,1];
const mapCol=["#181c48","#2b4fa3","#2a63b0","#3a8abd","#5d9fbf","#78abc0","#9abac6","#b5c9d0","#d0d9df","#f1eeec","#e8d6cf","#e3c2b5","#d7a492","#c05a38","#8b1a2d","#3a0a14"];
function hex(c){return [1,3,5].map(i=>parseInt(c.substr(i,2),16));}
function cmap(t){
  t=Math.max(-1,Math.min(1,t));
  let i=0;
  while(i<mapPos.length-2&&t>mapPos[i+1])i++;
  const f=(t-mapPos[i])/(mapPos[i+1]-mapPos[i]);
  const a=hex(mapCol[i]),b=hex(mapCol[i+1]);
  return "rgb("+a.map((v,k)=>Math.round(v+(b[k]-v)*f)).join(",")+")";
}

const svg=document.getElementById("figure");
const NS="http://www.w3.org/2000/svg";
function mk(tag,attrs,parent){
  const e=document.createElementNS(NS,tag);
  for(const k in attrs)e.setAttribute(k,attrs[k]);
  parent.appendChild(e);
  return e;
}
function clip(poly,L,above){
  const out=[];
  for(let i=0;i<poly.length;i++){
    const a=poly[i],b=poly[(i+1)%poly.length];
    const ina=above?a[2]>=L:a[2]<=L,inb=above?b[2]>=L:b[2]<=L;
    if(ina)out.push(a);
    if(ina!==inb){
      const f=(L-a[2])/(b[2]-a[2]);
      out.push([a[0]+(b[0]-a[0])*f,a[1]+(b[1]-a[1])*f,L]);
    }
  }
  return out;
}
function pathOf(poly){
  return "M"+poly.map(p=>p[0].toFixed(1)+" "+p[1].toFixed(1)).join("L")+"Z";
}

panels.forEach((p,pi)=>{
  const [x0,y0,x1,y1]=p.box;
  const X=pct=>x0+pct/100*(x1-x0);
  const Y=d=>y0+(p.top-d)/(p.top-p.bottom)*(y1-y0);
  const g=mk("g",{},svg);
  
  

  /* triangles from the velocity grid */
  const tris=[];
  let vmin=1e9,vmax=-1e9;
  const val=(j,i)=>{
    const r=p.sp[j];
    const v=i<r.length?r[i]:r[r.length-1];
    return v+1e-7;
  };
  for(let j=0;j<p.de.length-1;j++){
    for(let i=0;i<p.st.length-1;i++){
      const a=[X(p.st[i]),Y(p.de[j]),val(j,i)];
      const b=[X(p.st[i+1]),Y(p.de[j]),val(j,i+1)];
      const c=[X(p.st[i+1]),Y(p.de[j+1]),val(j+1,i+1)];
      const d=[X(p.st[i]),Y(p.de[j+1]),val(j+1,i)];
      const m=[(a[0]+c[0])/2,(a[1]+c[1])/2,(a[2]+b[2]+c[2]+d[2])/4];
      tris.push([a,b,m],[b,c,m],[c,d,m],[d,a,m]);
      [a,b,c,d].forEach(q=>{vmin=Math.min(vmin,q[2]);vmax=Math.max(vmax,q[2]);});
    }
  }

  /* clip region: water between surface and bed */
  const cid="water-"+pi;
  const cp=mk("clipPath",{id:cid},svg);
  const pts=[];
  p.sp1.forEach((s,i)=>pts.push(X(s).toFixed(1)+","+Y(p.sd[i]).toFixed(1)));
  for(let i=p.bp.length-1;i>=0;i--)pts.push(X(p.bp[i]).toFixed(1)+","+Y(p.bd[i]).toFixed(1));
  mk("polygon",{points:pts.join(" ")},cp);

  const field=mk("g",{"clip-path":"url(#"+cid+")"},g);
  
  

  const kMin=Math.floor(vmin/p.step),kMax=Math.ceil(vmax/p.step);
  /* filled bands, each overlapping the next so no seams show */
  for(let k=kMin;k<kMax;k++){
    const L=k*p.step;
    let d="";
    for(const t of tris){
      const hi=Math.max(t[0][2],t[1][2],t[2][2]),lo=Math.min(t[0][2],t[1][2],t[2][2]);
      if(hi<L||lo>L+2*p.step)continue;
      let q=clip(t,L,true);
      if(q.length<3)continue;
      if(k<kMax-1)q=clip(q,L+2*p.step,false);
      if(q.length<3)continue;
      d+=pathOf(q);
    }
    if(d){
      const band=mk("path",{d:d,fill:cmap(L/p.clim)},field);
      
      
    }
  }
  /* contour lines */
  for(let k=kMin+1;k<kMax;k++){
    const L=k*p.step;
    let d="";
    for(const t of tris){
      const seg=[];
      for(let i=0;i<3;i++){
        const a=t[i],b=t[(i+1)%3];
        if((a[2]>=L)!==(b[2]>=L)){
          const f=(L-a[2])/(b[2]-a[2]);
          seg.push((a[0]+(b[0]-a[0])*f).toFixed(1)+" "+(a[1]+(b[1]-a[1])*f).toFixed(1));
        }
      }
      if(seg.length===2)d+="M"+seg[0]+"L"+seg[1];
    }
    if(d){
      const line=mk("path",{d:d,fill:"none",stroke:"#000","stroke-width":"1.2","stroke-linecap":"round"},field);
      
      
    }
  }

  /* river bed */
  const bed=mk("polyline",{points:p.bp.map((s,i)=>X(s).toFixed(1)+","+Y(p.bd[i]).toFixed(1)).join(" "),fill:"none",stroke:"#000","stroke-width":"2.2","stroke-linejoin":"round"},g);
  
  

  /* contour labels */
  p.lt.forEach((txt,i)=>{
    const lx=X(p.lp[i]),ly=Y(p.ld[i]);
    const t=mk("text",{x:lx,y:ly,"font-size":"21","text-anchor":"middle","dominant-baseline":"middle",fill:"#111",transform:"rotate(-48 "+lx+" "+ly+")"},g);
    t.textContent=txt;
    
    
  });

  /* frame and ticks */
  const frame=mk("rect",{x:x0,y:y0,width:x1-x0,height:y1-y0,fill:"none",stroke:"#2a2a2a","stroke-width":"2.5"},g);
  
  
  let td="";
  p.dt.forEach(d=>{const y=Y(d);td+="M"+x0+" "+y+"h7M"+x1+" "+y+"h-7";});
  [0,50,100].forEach(v=>{const x=X(v);if(v===50)td+="M"+x+" "+y0+"v7M"+x+" "+y1+"v-7";});
  const ticks=mk("path",{d:td,stroke:"#222","stroke-width":"2",fill:"none"},g);
  
  

  /* x tick labels */
  p.lat.forEach((txt,i)=>{
    const t=mk("text",{x:X(i*50)-(i===2&&txt.length<7?5:0),y:y1+39,"font-size":"28.6","text-anchor":"middle",fill:"#1a1a1a"},g);
    t.textContent=txt;
    
    
  });

  /* y tick labels and title on the left column */
  if(p.yl){
    p.dt.forEach(d=>{
      const t=mk("text",{x:x0-10,y:Y(d)+12,"font-size":"28.6","text-anchor":"end",fill:"#1a1a1a"},g);
      t.textContent=String(d);
      
      
    });
    const yt=mk("text",{x:p.yl[0],y:p.yl[1],"font-size":"28","font-weight":"bold","text-anchor":"middle",fill:"#1a1a1a",transform:"rotate(-90 "+p.yl[0]+" "+p.yl[1]+")"},g);
    yt.textContent="H(m)";
    
    
  }
  if(p.xl){
    const xt=mk("text",{x:p.xl,y:2480,"font-size":"28.6","font-weight":"bold","text-anchor":"middle",fill:"#1a1a1a"},g);
    xt.textContent="Latitude(°N)";
    
    
  }

  /* legend */
  const bx=x0+p.blob[0];
  [0,1].forEach(i=>{
    const by=y1+p.blob[i+1];
    const el=mk("ellipse",{cx:bx,cy:by,rx:14,ry:14.5,fill:i?"url(#blob-in)":"url(#blob-out)"},g);
    
    
    const tx=mk("text",{x:bx+p.tx[i][0],y:by+10,"font-size":"36",textLength:p.tx[i][1],lengthAdjust:"spacingAndGlyphs",fill:"#111"},g);
    tx.textContent=p.leg[i];
    
    
  });
  const letter=mk("text",{x:p.lx,y:p.ly,"font-size":"27","font-weight":"bold","text-anchor":"middle",fill:"#111"},g);
  letter.textContent=p.letter;
  
  

  /* colour bar */
  const [bx0,by0,bx1,by1]=p.bar;
  const bar=mk("rect",{x:bx0,y:by0,width:bx1-bx0,height:by1-by0,fill:"url(#bar-grad)",stroke:"#444","stroke-width":"1.5"},g);
  
  
  const bmax=p.bt[0];
  const BY=v=>by0+(bmax-v)/(2*bmax)*(by1-by0);
  p.bt.forEach(v=>{
    const y=BY(v);
    const tk=mk("path",{d:"M"+bx1+" "+y+"h-5",stroke:"#333","stroke-width":"1.5"},g);
    
    
    const tl=mk("text",{x:bx1+8,y:y+8.5,"font-size":"22.4",fill:"#1a1a1a"},g);
    tl.textContent=String(v);
    
    
  });
  const unit=mk("text",{x:(bx0+bx1)/2-1,y:by0-14,"font-size":"22.4","text-anchor":"middle",fill:"#1a1a1a"},g);
  unit.textContent="(m/s)";
  
  
});
</script>
</body>
</html>
